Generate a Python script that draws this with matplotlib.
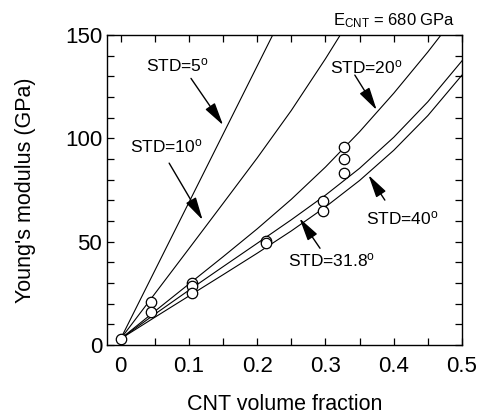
import matplotlib
matplotlib.use('Agg')
import matplotlib.pyplot as plt
from matplotlib.ticker import MultipleLocator

plt.rcParams['font.family'] = ['Liberation Sans', 'DejaVu Sans']
plt.rcParams['mathtext.fontset'] = 'custom'
plt.rcParams['mathtext.rm'] = 'Liberation Sans'
plt.rcParams['mathtext.it'] = 'Liberation Sans:italic'

# ------------------------
# model curves
vf = [0, 0.05, 0.1, 0.15, 0.2, 0.25, 0.3, 0.35, 0.4, 0.45, 0.5]
std5 = [3, 36, 69, 102, 135, 168]
std10 = [3, 24.8, 46.6, 68.5, 90.5, 113.5, 138.5, 165]
std20 = [3, 16.3, 29.5, 42.7, 56.2, 70.5, 86.1, 103.2, 121.8, 141.8, 163.1]
std31 = [3, 14.9, 26.5, 37.9, 49.2, 60.6, 72.5, 85.5, 100.5, 117.7, 137.5]
std40 = [3, 13.4, 23.7, 34.0, 44.4, 55.2, 66.8, 79.6, 94.2, 111.0, 130.6]

# measured points
exp_vf = [0, 0.044, 0.044, 0.104, 0.104, 0.104, 0.213, 0.213, 0.296, 0.296, 0.327, 0.327, 0.327]
exp_E = [3, 20.9, 15.8, 29.8, 28.5, 25.0, 50.5, 49.5, 69.5, 64.6, 95.8, 89.8, 83.3]

# label text, label pos, arrow start, arrow tip
labels = [
    (r'STD=5$^{\rm o}$', (0.083, 135.5), (0.103, 129), (0.150, 106.4)),
    (r'STD=10$^{\rm o}$', (0.067, 96), (0.071, 88), (0.120, 60.5)),
    (r'STD=20$^{\rm o}$', (0.360, 134.6), (0.343, 130.6), (0.375, 113.7)),
    (r'STD=40$^{\rm o}$', (0.413, 61.3), (0.387, 70.1), (0.363, 82.2)),
    (r'STD=31.8$^{\rm o}$', (0.309, 41.1), (0.292, 46.8), (0.262, 61.3)),
]
# ------------------------------

fig = plt.figure(figsize=(4.81, 4.15), dpi=100)
ax = fig.add_axes([0.2225, 0.1687, 0.738, 0.747])

for ys in [std5, std10, std20, std31, std40]:
    ax.plot(vf[:len(ys)], ys, color='k', lw=0.8)

ax.plot(exp_vf, exp_E, 'o', ms=7.5, mfc='white', mec='k', mew=0.9, clip_on=False, zorder=3)

for txt, tpos, start, tip in labels:
    ax.text(tpos[0], tpos[1], txt, fontsize=12.5, ha='center', va='center')
    ax.annotate('', xy=tip, xytext=start,
                arrowprops=dict(arrowstyle='-|>,head_length=1.0,head_width=0.25',
                                color='k', lw=1, shrinkA=0, shrinkB=0, mutation_scale=14))

ax.text(0.49, 157, r'E$_{\rm CNT}$ = 680 GPa', fontsize=12, ha='right', va='center', clip_on=False)

ax.set_xlim(-0.02, 0.5)
ax.set_ylim(0, 150)
ax.xaxis.set_major_locator(MultipleLocator(0.1))
ax.xaxis.set_minor_locator(MultipleLocator(0.05))
ax.yaxis.set_major_locator(MultipleLocator(50))
ax.yaxis.set_minor_locator(MultipleLocator(10))
ax.set_xticklabels(['', '0', '0.1', '0.2', '0.3', '0.4', '0.5'][:len(ax.get_xticks())])
ax.tick_params(which='both', direction='in', top=True, right=True, length=5, width=0.9, labelsize=16)
ax.tick_params(axis='x', pad=8)
for s in ax.spines.values():
    s.set_linewidth(1)

ax.set_xlabel('CNT volume fraction', fontsize=15.5, labelpad=12)
ax.set_ylabel("Young's modulus (GPa)", fontsize=15.5, labelpad=21)

fig.savefig('out.png', dpi=100)
